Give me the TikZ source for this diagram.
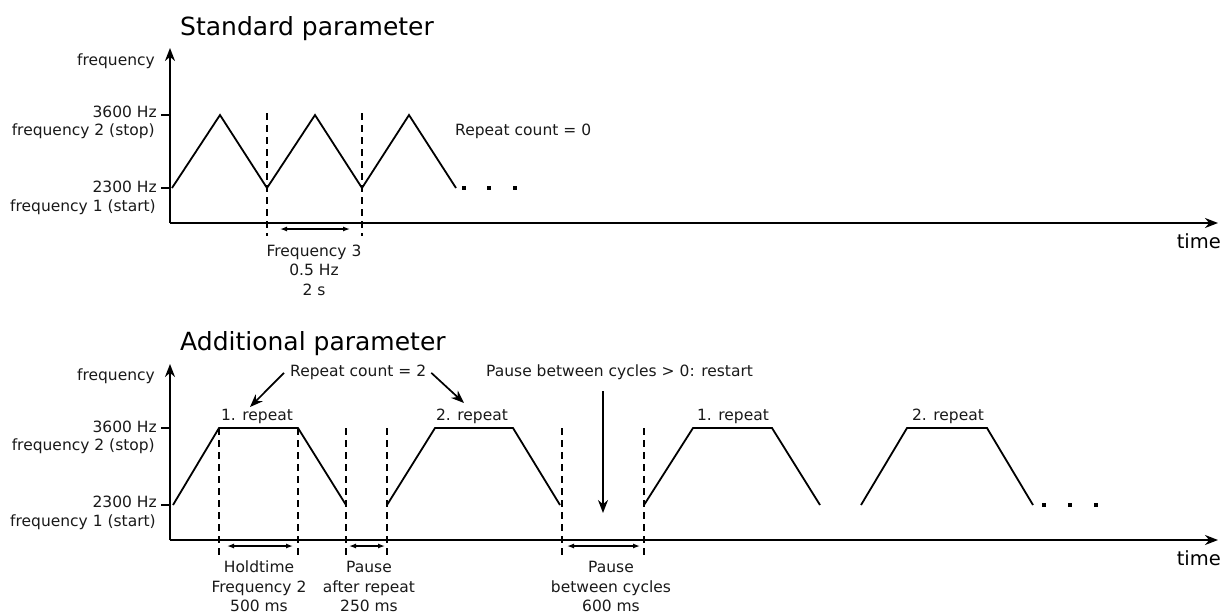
\documentclass[tikz,border=0pt]{standalone}
\usepackage{fontspec}
\setmainfont{DejaVu Sans}
\usetikzlibrary{arrows.meta,positioning,calc}

\begin{document}
\begin{tikzpicture}[
  x=1pt, y=-1pt,
  font=\fontsize{15.5}{19.5}\selectfont,
  lab/.style={inner sep=0pt, text=black!90},
  ttl/.style={inner sep=0pt, font=\fontsize{25}{30}\selectfont},
  tm/.style={inner sep=0pt, font=\fontsize{19.5}{24}\selectfont},
  axis/.style={line width=2.1pt, -{Stealth[length=13pt,width=10pt]}},
  wave/.style={line width=1.8pt, line join=miter},
  guide/.style={line width=1.8pt, dash pattern=on 7pt off 5pt},
  span/.style={line width=1.3pt, {Latex[length=7pt,width=5pt]}-{Latex[length=7pt,width=5pt]}},
  note/.style={line width=1.7pt, -{Stealth[length=13pt,width=10pt]}},
  dot/.style={rectangle, fill=black, minimum size=4.5pt, inner sep=0pt},
]
\useasboundingbox (0,0) rectangle (1224,614);

\node[ttl, anchor=base west] (t1) at (180,35) {Standard parameter};
\coordinate (o1) at (170,223);
\draw[axis] (o1) -- (170,48);
\draw[axis] (o1) -- (1218,223);
\draw[line width=1.3pt] (161,115) -- (170,115);
\draw[line width=1.3pt] (161,188) -- (170,188);
\node[lab, anchor=base east] (fq1) at (155,65) {frequency};
\node[lab, anchor=base east] (hi1) at (157,117) {3600 Hz};
\node[lab, anchor=base east] (f21) at (155,135) {frequency 2 (stop)};
\node[lab, anchor=base east] (lo1) at (157,192) {2300 Hz};
\node[lab, anchor=base east] (f11) at (156,211) {frequency 1 (start)};
\node[tm, anchor=base east] (tm1) at (1221,248) {time};
\draw[wave] (172,188) -- (220,115) -- (267,188) -- (315,115) -- (362,188) -- (409,115) -- (456,188);
\foreach \x [count=\i] in {464,489,515} \node[dot] (da\i) at (\x,188) {};
\draw[guide] (267,113) -- (267,236);
\draw[guide] (362,113) -- (362,236);
\draw[span] (280,229) -- (350,229);
\node[lab, align=center, anchor=north] (f3) at (314,244.5) {Frequency 3\\0.5 Hz\\2 s};
\node[lab, anchor=base west] (rc0) at (455,135) {Repeat count = 0};

\node[ttl, anchor=base west] (t2) at (180,350) {Additional parameter};
\coordinate (o2) at (170,540);
\draw[axis] (o2) -- (170,364);
\draw[axis] (o2) -- (1218,540);
\draw[line width=1.3pt] (161,428) -- (170,428);
\draw[line width=1.3pt] (161,505) -- (170,505);
\node[lab, anchor=base east] (fq2) at (155,380) {frequency};
\node[lab, anchor=base east] (hi2) at (157,432) {3600 Hz};
\node[lab, anchor=base east] (f22) at (155,450) {frequency 2 (stop)};
\node[lab, anchor=base east] (lo2) at (157,507) {2300 Hz};
\node[lab, anchor=base east] (f12) at (156,526) {frequency 1 (start)};
\node[tm, anchor=base east] (tm2) at (1221,565) {time};
\draw[wave] (173,505) -- (219,428) -- (298,428) -- (346,505);
\draw[wave] (387,505) -- (435,428) -- (513,428) -- (560,505);
\draw[wave] (644,505) -- (693,428) -- (772,428) -- (820,505);
\draw[wave] (861,505) -- (907,428) -- (987,428) -- (1033,505);
\foreach \x [count=\i] in {1044,1070,1096} \node[dot] (db\i) at (\x,505) {};
\foreach \x in {219,298,346,387,562,644} \draw[guide] (\x,428) -- (\x,556);
\draw[span] (227,546) -- (293,546);
\draw[span] (349,546) -- (385,546);
\draw[span] (567,546) -- (640,546);
\node[lab, anchor=base] (r1) at (257,420) {1. repeat};
\node[lab, anchor=base] (r2) at (472,420) {2. repeat};
\node[lab, anchor=base] (r3) at (733,420) {1. repeat};
\node[lab, anchor=base] (r4) at (948,420) {2. repeat};
\node[lab, anchor=base west] (rc2) at (290,376) {Repeat count = 2};
\node[lab, anchor=base west] (pc) at (486,376) {Pause between cycles > 0: restart};
\coordinate (a1) at (250,407);
\coordinate (a2) at (464,403);
\coordinate (gap) at (603,513);
\draw[note] ([xshift=-6pt,yshift=-1pt]rc2.west) -- (a1);
\draw[note] ([xshift=5pt,yshift=-1pt]rc2.east) -- (a2);
\draw[note] ([yshift=-12pt]gap |- pc.south) -- (gap);
\node[lab, align=center, anchor=north] (ht) at (259,561) {Holdtime\\Frequency 2\\500 ms};
\node[lab, align=center, anchor=north] (pr) at (369,561) {Pause\\after repeat\\250 ms};
\node[lab, align=center, anchor=north] (pb) at (611,561) {Pause\\between cycles\\600 ms};
\end{tikzpicture}
\end{document}
